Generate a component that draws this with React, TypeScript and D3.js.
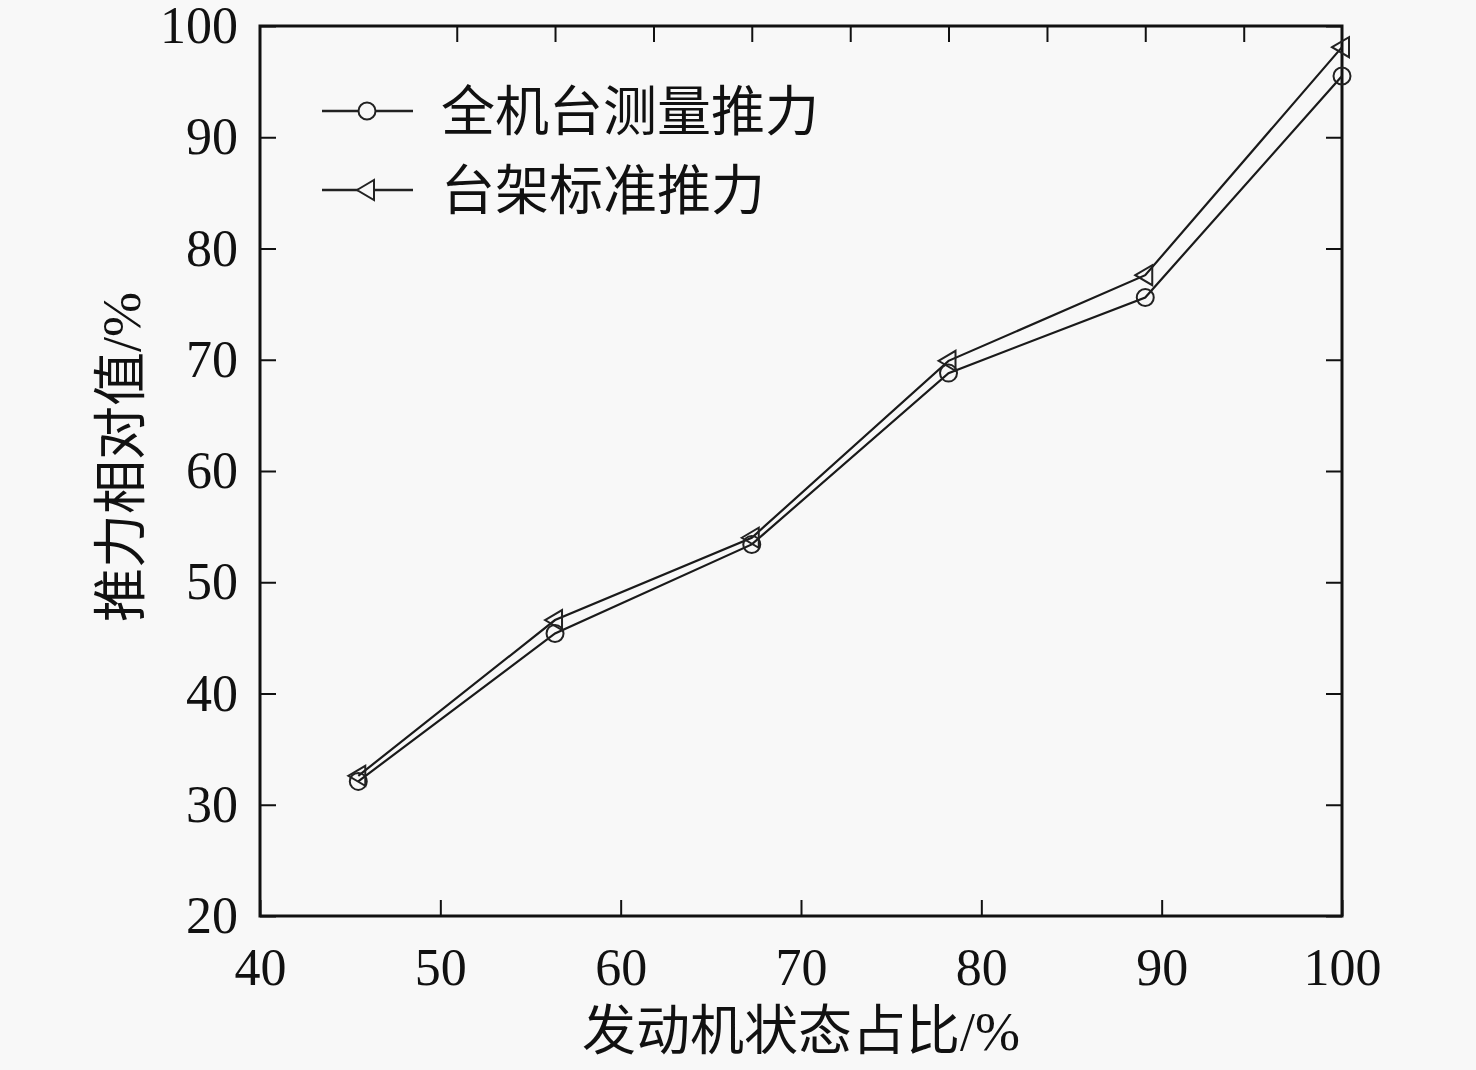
import React, { useEffect, useRef } from "react";
import * as d3 from "d3";

// engine state share (%) at each test point
const xValues = [45.45, 56.36, 67.27, 78.18, 89.09, 100];
// whole-bench measured thrust (%)
const measured = [32.1, 45.4, 53.4, 68.8, 75.6, 95.5];
// bench standard thrust (%)
const standard = [32.6, 46.6, 54.0, 69.9, 77.6, 98.1];

const xTicks = [40, 50, 60, 70, 80, 90, 100];
const yTicks = [20, 30, 40, 50, 60, 70, 80, 90, 100];
const topTicks = [50.91, 56.36, 61.82, 67.27, 72.73, 78.18, 83.64, 89.09, 94.55];

const seriesNames = ["全机台测量推力", "台架标准推力"];
const xTitle = "发动机状态占比/%";
const yTitle = "推力相对值/%";

const W = 1476;
const H = 1070;
const FONT = "'Liberation Serif', 'Times New Roman', 'Noto Sans CJK SC', serif";

const App = () => {
  const ref = useRef(null);

  useEffect(() => {
    const svg = d3.select(ref.current);
    svg.selectAll("*").remove();

    const margin = { top: 26, right: 134, bottom: 154, left: 260 };
    const width = W - margin.left - margin.right;
    const height = H - margin.top - margin.bottom;

    svg.append("rect").attr("width", W).attr("height", H).attr("fill", "#f8f8f8");

    const chart = svg
      .append("g")
      .attr("transform", `translate(${margin.left},${margin.top})`);

    const x = d3.scaleLinear().domain([40, 100]).range([0, width]);
    const y = d3.scaleLinear().domain([20, 100]).range([height, 0]);

    const styleAxis = (g: any) => {
      g.select(".domain").remove();
      g.selectAll(".tick line").attr("stroke", "#111").attr("stroke-width", 2);
      g.selectAll("text")
        .attr("font-family", FONT)
        .attr("font-size", 52)
        .attr("fill", "#111");
    };

    // bottom axis
    chart
      .append("g")
      .attr("transform", `translate(0,${height})`)
      .call(d3.axisBottom(x).tickValues(xTicks).tickSize(-16).tickPadding(32).tickFormat(d3.format("d")))
      .call(styleAxis);

    // left axis
    chart
      .append("g")
      .call(d3.axisLeft(y).tickValues(yTicks).tickSize(-16).tickPadding(22).tickFormat(d3.format("d")))
      .call(styleAxis);

    // right axis, ticks only
    chart
      .append("g")
      .attr("transform", `translate(${width},0)`)
      .call(d3.axisRight(y).tickValues(yTicks).tickSize(-16).tickFormat(() => ""))
      .call(styleAxis);

    // top axis, ticks only
    chart
      .append("g")
      .call(d3.axisTop(x).tickValues(topTicks).tickSize(-16).tickFormat(() => ""))
      .call(styleAxis);

    // frame
    chart
      .append("rect")
      .attr("width", width)
      .attr("height", height)
      .attr("fill", "none")
      .attr("stroke", "#111")
      .attr("stroke-width", 3);

    const line = d3
      .line<number>()
      .x((_, i) => x(xValues[i]))
      .y((d) => y(d));

    const triangle = (cx: number, cy: number, s: number) =>
      `M${cx - s},${cy}L${cx + s * 0.7},${cy - s}L${cx + s * 0.7},${cy + s}Z`;

    [measured, standard].forEach((vals) => {
      chart
        .append("path")
        .datum(vals)
        .attr("d", line)
        .attr("fill", "none")
        .attr("stroke", "#1a1a1a")
        .attr("stroke-width", 2.2);
    });

    chart
      .selectAll(".circ")
      .data(measured)
      .enter()
      .append("circle")
      .attr("cx", (_, i) => x(xValues[i]))
      .attr("cy", (d) => y(d))
      .attr("r", 8.5)
      .attr("fill", "none")
      .attr("stroke", "#222")
      .attr("stroke-width", 2);

    chart
      .selectAll(".tri")
      .data(standard)
      .enter()
      .append("path")
      .attr("d", (d, i) => triangle(x(xValues[i]), y(d), 10))
      .attr("fill", "none")
      .attr("stroke", "#222")
      .attr("stroke-width", 2);

    // legend
    const legend = svg.append("g");
    seriesNames.forEach((name, i) => {
      const ly = 111 + i * 79;
      legend
        .append("line")
        .attr("x1", 322)
        .attr("x2", 413)
        .attr("y1", ly)
        .attr("y2", ly)
        .attr("stroke", "#222")
        .attr("stroke-width", 2.5);
      if (i === 0) {
        legend
          .append("circle")
          .attr("cx", 367)
          .attr("cy", ly)
          .attr("r", 8.5)
          .attr("fill", "#f8f8f8")
          .attr("stroke", "#222")
          .attr("stroke-width", 2);
      } else {
        legend
          .append("path")
          .attr("d", triangle(367, ly, 10))
          .attr("fill", "#f8f8f8")
          .attr("stroke", "#222")
          .attr("stroke-width", 2);
      }
      legend
        .append("text")
        .attr("x", 441)
        .attr("y", ly + 20)
        .attr("font-family", FONT)
        .attr("font-size", 54)
        .attr("fill", "#111")
        .text(name);
    });

    // axis titles
    svg
      .append("text")
      .attr("x", margin.left + width / 2)
      .attr("y", 1050)
      .attr("text-anchor", "middle")
      .attr("font-family", FONT)
      .attr("font-size", 54)
      .attr("fill", "#111")
      .text(xTitle);

    svg
      .append("text")
      .attr("transform", `translate(140,457) rotate(-90)`)
      .attr("text-anchor", "middle")
      .attr("font-family", FONT)
      .attr("font-size", 54)
      .attr("fill", "#111")
      .text(yTitle);
  }, []);

  return (
    <svg
      ref={ref}
      width={W}
      height={H}
      style={{ position: "absolute", left: 0, top: 0, display: "block" }}
    />
  );
};

export default App;
